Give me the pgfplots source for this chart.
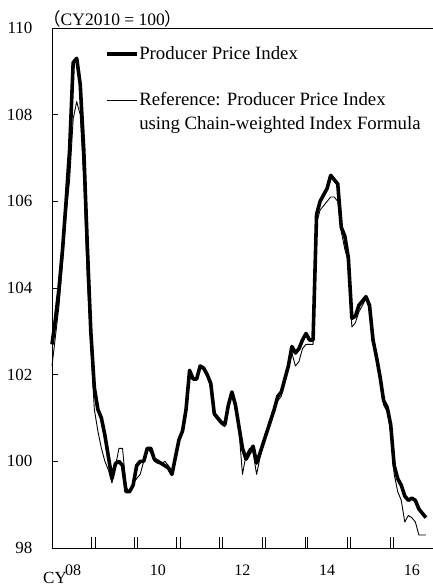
\documentclass[border=0pt]{standalone}
\usepackage{pgfplots}
\pgfplotsset{compat=1.18}
\usepackage{pgfplotstable}
\usepackage{fontspec}
\setmainfont{Liberation Serif}
\newfontfamily\cjk{Noto Sans CJK JP}
\pgfplotstableread{
m ppi chain
0 102.7 102.2
1 103.3 102.9
2 104.0 103.6
3 104.9 104.6
4 106.0 105.7
5 107.2 106.5
6 109.2 107.9
7 109.3 108.3
8 108.7 108.0
9 107.2 106.5
10 105.0 104.2
11 103.0 102.7
12 101.7 101.2
13 101.2 100.7
14 101.0 100.3
15 100.6 100.0
16 100.1 99.8
17 99.6 99.5
18 99.95 99.9
19 100.0 100.3
20 99.9 100.3
21 99.3 99.4
22 99.3 99.3
23 99.45 99.5
24 99.9 99.6
25 100.0 99.7
26 100.0 100.0
27 100.3 100.3
28 100.3 100.2
29 100.05 100.0
30 100.0 99.95
31 99.95 99.95
32 99.9 100.0
33 99.85 99.9
34 99.7 99.75
35 100.1 100.05
36 100.5 100.5
37 100.7 100.7
38 101.2 101.2
39 102.1 102.0
40 101.9 101.9
41 101.9 101.9
42 102.2 102.2
43 102.15 102.1
44 102.0 101.95
45 101.8 101.7
46 101.1 101.05
47 101.0 100.95
48 100.9 100.85
49 100.85 100.8
50 101.3 101.3
51 101.6 101.55
52 101.3 101.3
53 100.8 100.7
54 100.3 99.7
55 100.05 100.15
56 100.2 100.3
57 100.35 100.2
58 99.96 99.7
59 100.2 100.1
60 100.45 100.4
61 100.7 100.7
62 100.95 100.95
63 101.2 101.2
64 101.5 101.4
65 101.6 101.5
66 101.9 101.85
67 102.2 102.15
68 102.65 102.5
69 102.5 102.2
70 102.6 102.3
71 102.8 102.6
72 102.95 102.7
73 102.8 102.7
74 102.8 102.7
75 105.7 105.5
76 106.0 105.8
77 106.15 105.9
78 106.3 106.0
79 106.6 106.1
80 106.5 106.1
81 106.4 106.0
82 105.4 105.3
83 105.2 104.9
84 104.7 104.6
85 103.3 103.1
86 103.35 103.2
87 103.6 103.45
88 103.7 103.6
89 103.8 103.75
90 103.6 103.5
91 102.8 102.8
92 102.4 102.3
93 101.95 101.9
94 101.4 101.3
95 101.25 101.15
96 100.85 100.7
97 99.9 99.7
98 99.6 99.3
99 99.45 99.1
100 99.2 98.6
101 99.1 98.75
102 99.15 98.7
103 99.1 98.6
104 98.9 98.3
105 98.8 98.3
106 98.7 98.3
}\datatable
\begin{document}
\begin{tikzpicture}
\begin{axis}[
  name=ax,
  width=381pt, height=520pt, scale only axis,
  xmin=0, xmax=108, ymin=98, ymax=110,
  axis x line*=box, axis y line*=left,
  axis line style={line width=0.9pt},
  tick align=inside,
  major tick length=11pt,
  every tick/.style={black, line width=0.8pt},
  ytick=\empty,
  extra y ticks={98,100,...,110},
  extra y tick style={major tick length=6pt},
  ytick pos=left,
  xtick={11.25,12.2,23.3,24.2,35.3,36.3,47.4,48.3,59.6,60.4,71.7,72.4,83.8,84.6,96.0,96.8},
  xticklabels={},
  xtick pos=bottom,
  extra x ticks={6,30,54,78,102},
  extra x tick labels={08,10,12,14,16},
  extra x tick style={major tick length=0pt},
  xticklabel style={font=\fontsize{16}{18}\selectfont, yshift=-13pt},
  yticklabel style={font=\fontsize{17}{19}\selectfont, xshift=-16pt},
  /pgf/number format/assume math mode=true,
  legend style={draw=none, fill=none, at={(rel axis cs:0.139,0.973)}, anchor=north west,
    inner sep=0pt, row sep=0pt, column sep=0pt,
    font=\fontsize{18.8}{22}\selectfont,
    nodes={inner xsep=0.5pt, inner ysep=0.5pt, text height=16.5pt, text depth=5.8pt}},
  legend cell align=left,
  legend image code/.code={\draw[#1] (0pt,0pt) -- (30pt,0pt);},
  clip=false,
]
\addplot[black, line width=3.6pt, line join=round] table[x=m, y=ppi] {\datatable};
\addlegendentry{Producer Price Index}
\addlegendimage{empty legend}
\addlegendentry{}
\addplot[black, line width=0.9pt, line join=round] table[x=m, y=chain] {\datatable};
\addlegendentry{Reference: Producer Price Index}
\addlegendimage{empty legend}
\addlegendentry{using Chain-weighted Index Formula}
\node[anchor=base west, inner sep=0pt, font=\fontsize{17.5}{20}\selectfont] at ([xshift=-9pt, yshift=2pt]rel axis cs:0,1) {{\cjk （}CY2010 = 100{\cjk ）}};
\node[anchor=north east, inner sep=0pt, font=\fontsize{17}{19}\selectfont] at ([xshift=15pt, yshift=-24pt]rel axis cs:0,0) {CY};
\end{axis}
\pgfresetboundingbox
\path[use as bounding box] ([xshift=-52pt, yshift=-39pt]ax.south west) rectangle ([yshift=28pt]ax.north east);
\end{tikzpicture}
\end{document}
